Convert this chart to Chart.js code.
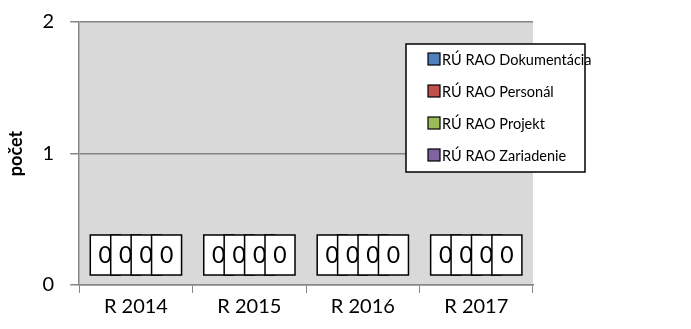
<!DOCTYPE html>
<html>
<head>
<meta charset="utf-8">
<script src="https://cdn.jsdelivr.net/npm/chart.js@4"></script>
<style>
  html, body { margin:0; padding:0; background:#fff; }
  #wrap { width:691px; height:329px; }
</style>
</head>
<body>
<div id="wrap"><canvas id="raoChart" width="691" height="329"></canvas></div>
<script>
const ctx = document.getElementById('raoChart');

/* =========================
   DATA
========================= */
const roky = ['R 2014', 'R 2015', 'R 2016', 'R 2017'];
const seriaNazvy = ['RÚ RAO Dokumentácia', 'RÚ RAO Personál', 'RÚ RAO Projekt', 'RÚ RAO Zariadenie'];
const dokumentacia = [0, 0, 0, 0];
const personal = [0, 0, 0, 0];
const projekt = [0, 0, 0, 0];
const zariadenie = [0, 0, 0, 0];
const yTicky = [0, 1, 2];

const farby = ['#4f81bd', '#c0504d', '#9bbb59', '#8064a2'];
const seriaHodnoty = [dokumentacia, personal, projekt, zariadenie];

const PISMO = "Lato, 'Open Sans', sans-serif";
Chart.defaults.font.family = PISMO;
Chart.defaults.color = '#000';

/* =========================
   POZADIE PLOCHY GRAFU
========================= */
const pozadie = {
  id: 'pozadie',
  beforeDraw(chart){
    const a = chart.chartArea;
    const c = chart.ctx;
    c.save();
    c.fillStyle = '#d9d9d9';
    c.fillRect(a.left, a.top, a.right - a.left, a.bottom - a.top);
    c.restore();
  }
};

/* =========================
   POPISKY HODNOT (biele boxy)
========================= */
const popisky = {
  id: 'popisky',
  afterDatasetsDraw(chart){
    const c = chart.ctx;
    const y0 = chart.scales.y.getPixelForValue(0);
    c.save();
    chart.data.datasets.forEach((ds, i) => {
      const meta = chart.getDatasetMeta(i);
      meta.data.forEach((el, j) => {
        const w = 30, h = 40;
        const cy = y0 - 30;
        c.fillStyle = '#fff';
        c.fillRect(el.x - w/2, cy - h/2, w, h);
        c.strokeStyle = '#000';
        c.lineWidth = 1.5;
        c.strokeRect(el.x - w/2, cy - h/2, w, h);
        c.fillStyle = '#000';
        c.font = '23px ' + PISMO;
        c.textAlign = 'center';
        c.textBaseline = 'middle';
        c.fillText(String(ds.data[j]), el.x, cy + 1);
      });
    });
    c.restore();
  }
};

/* =========================
   LEGENDA V RAMCEKU
========================= */
const legenda = {
  id: 'legenda',
  afterDraw(chart){
    const c = chart.ctx;
    const x = 406, y = 44, w = 179, h = 128;
    c.save();
    c.fillStyle = '#fff';
    c.fillRect(x, y, w, h);
    c.strokeStyle = '#000';
    c.lineWidth = 1.5;
    c.strokeRect(x, y, w, h);
    c.font = '14.5px ' + PISMO;
    c.textBaseline = 'middle';
    c.textAlign = 'left';
    chart.data.datasets.forEach((ds, i) => {
      const ry = y + 15 + i * 32;
      c.fillStyle = ds.backgroundColor;
      c.fillRect(428, ry - 6, 12, 12);
      c.strokeStyle = '#000';
      c.lineWidth = 1.2;
      c.strokeRect(428, ry - 6, 12, 12);
      c.fillStyle = '#000';
      c.fillText(ds.label, 442, ry + 1);
    });
    c.restore();
  }
};

/* =========================
   GRAF
========================= */
new Chart(ctx, {
  type: 'bar',
  data: {
    labels: roky,
    datasets: seriaNazvy.map((n, i) => ({
      label: n,
      data: seriaHodnoty[i],
      backgroundColor: farby[i],
      categoryPercentage: 0.72,
      barPercentage: 1
    }))
  },
  options: {
    responsive: false,
    animation: false,
    layout: { padding: { top: 22, right: 158, bottom: 8, left: 5 } },
    plugins: {
      legend: { display: false },
      tooltip: { enabled: false }
    },
    scales: {
      x: {
        grid: {
          offset: true,
          drawOnChartArea: false,
          drawTicks: true,
          tickLength: 8,
          color: '#868686'
        },
        border: { color: '#868686', width: 1.5 },
        ticks: { font: { size: 20 }, padding: 2 }
      },
      y: {
        min: 0,
        max: 2,
        afterBuildTicks: (s) => { s.ticks = yTicky.map(v => ({ value: v })); },
        afterFit: (s) => { s.paddingTop = 0; },
        grid: { color: '#868686', lineWidth: 1.5, tickLength: 9 },
        border: { color: '#868686', width: 1.5 },
        ticks: { font: { size: 20 }, padding: 16 },
        title: {
          display: true,
          text: 'počet',
          font: { size: 18, weight: 'bold' },
          padding: { top: 0, bottom: 0 }
        }
      }
    }
  },
  plugins: [pozadie, popisky, legenda]
});
</script>
</body>
</html>
